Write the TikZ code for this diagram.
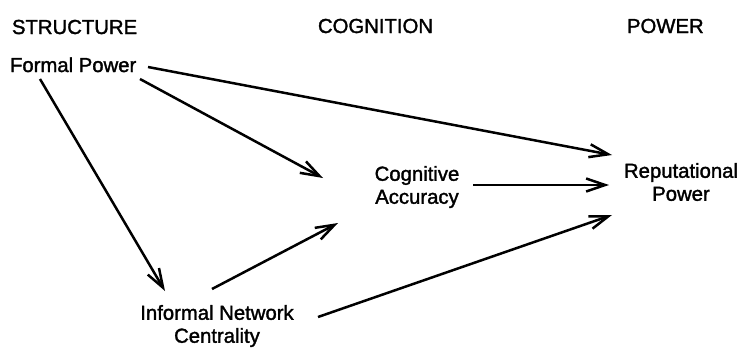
\documentclass[tikz,border=0pt]{standalone}
\usepackage{fontspec}
\setmainfont{Liberation Sans}
\newfontfamily\lblfont[FakeBold=1.6]{Liberation Sans}
\usetikzlibrary{arrows.meta}
\begin{document}
\begin{tikzpicture}[x=1pt,y=-1pt,
  lbl/.style={font=\lblfont\fontsize{20.3}{23}\selectfont, inner sep=0pt, outer sep=0pt, align=center},
  conn/.style={line width=2.5pt, -{Straight Barb[length=19pt,width=13pt,line width=2.5pt]}}]
\useasboundingbox (0,0) rectangle (744,351);
% headings
\node[lbl, anchor=base west] (hs) at (12,34) {STRUCTURE};
\node[lbl, anchor=base west] (hc) at (318,33) {COGNITION};
\node[lbl, anchor=base west] (hp) at (627,33) {POWER};
% variables
\node[lbl, anchor=base west] (fp) at (10,72) {Formal Power};
\node[lbl] (ca) at (417,187) {Cognitive\\Accuracy};
\node[lbl] (rp) at (681,182) {Reputational\\Power};
\node[lbl] (inc) at (217,326) {Informal Network\\Centrality};
% connector ends
\coordinate (fp-r) at (148,67);
\coordinate (fp-c) at (140,79);
\coordinate (fp-i) at (40,79);
\coordinate (ca-in1) at (323,178);
\coordinate (ca-in2) at (338,223);
\coordinate (ca-out) at (473,185);
\coordinate (rp-in1) at (612,155);
\coordinate (rp-in2) at (609,185);
\coordinate (rp-in3) at (612,215);
\coordinate (inc-in) at (165,291);
\coordinate (inc-c) at (212,289);
\coordinate (inc-r) at (318,317);
% connectors
\draw[conn] (fp-r) -- (rp-in1);
\draw[conn] (fp-c) -- (ca-in1);
\draw[conn] (fp-i) -- (inc-in);
\draw[conn] (inc-c) -- (ca-in2);
\draw[conn] (inc-r) -- (rp-in3);
\draw[conn] (ca-out) -- (rp-in2);
\end{tikzpicture}
\end{document}
